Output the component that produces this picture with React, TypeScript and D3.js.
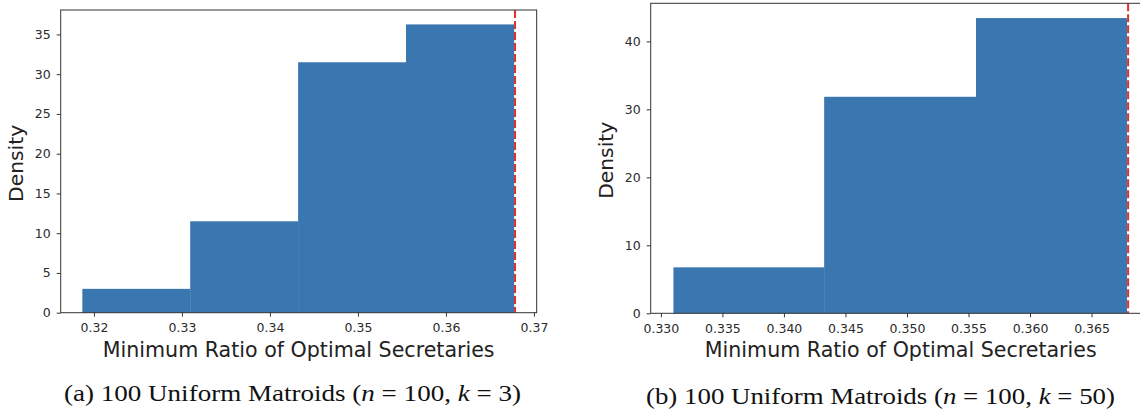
import React, { useEffect, useRef } from "react";
import * as d3 from "d3";

// panel (a): n=100, k=3
const edgesA = [0.31868, 0.33094, 0.3432, 0.35546, 0.36772];
const densityA = [3.0, 11.5, 31.5, 36.26];
const optA = 0.36785;
const xTicksA = [0.32, 0.33, 0.34, 0.35, 0.36, 0.37];
const yTicksA = [0, 5, 10, 15, 20, 25, 30, 35];

// panel (b): n=100, k=50
const edgesB = [0.33102, 0.34327, 0.35561, 0.36786];
const densityB = [6.76, 31.85, 43.43];
const optB = 0.36797;
const xTicksB = [0.33, 0.335, 0.34, 0.345, 0.35, 0.355, 0.36, 0.365];
const yTicksB = [0, 10, 20, 30, 40];

const W = 1140;
const H = 413;
const barColor = "#3a76af";
const sans = "DejaVu Sans, sans-serif";

type Panel = {
  edges: number[];
  density: number[];
  opt: number;
  xTicks: number[];
  yTicks: number[];
  xFmt: string;
  left: number;
  pxPerUnit: number;
  top: number;
  bottom: number;
  caption: string;
  kVal: string;
  capX: number;
  capW: number;
  capY: number;
};

const panels: Panel[] = [
  {
    edges: edgesA, density: densityA, opt: optA, xTicks: xTicksA, yTicks: yTicksA,
    xFmt: ".2f", left: 60.7, pxPerUnit: 8800, top: 10, bottom: 312.7,
    caption: "(a)", kVal: "3", capX: 64, capW: 457, capY: 401,
  },
  {
    edges: edgesB, density: densityB, opt: optB, xTicks: xTicksB, yTicks: yTicksB,
    xFmt: ".3f", left: 650.7, pxPerUnit: 12305, top: 3.3, bottom: 313.3,
    caption: "(b)", kVal: "50", capX: 646, capW: 469, capY: 404,
  },
];

function drawPanel(svg: d3.Selection<SVGSVGElement, unknown, null, undefined>, p: Panel) {
  const lo = p.edges[0];
  const hi = Math.max(p.edges[p.edges.length - 1], p.opt);
  const pad = (hi - lo) * 0.05;
  const x0 = lo - pad;
  const x1 = hi + pad;
  const right = p.left + (x1 - x0) * p.pxPerUnit;
  const x = d3.scaleLinear().domain([x0, x1]).range([p.left, right]);
  const yMax = (d3.max(p.density) as number) * 1.05;
  const y = d3.scaleLinear().domain([0, yMax]).range([p.bottom, p.top]);

  const g = svg.append("g");
  const bins = p.density.map((d, i) => ({ x0: p.edges[i], x1: p.edges[i + 1], d }));

  g.selectAll("rect.bar")
    .data(bins)
    .enter()
    .append("rect")
    .attr("class", "bar")
    .attr("x", (b) => x(b.x0))
    .attr("width", (b) => x(b.x1) - x(b.x0) + 0.3)
    .attr("y", (b) => y(b.d))
    .attr("height", (b) => y(0) - y(b.d))
    .attr("fill", barColor);

  g.append("line")
    .attr("x1", x(p.opt)).attr("x2", x(p.opt))
    .attr("y1", p.top).attr("y2", p.bottom)
    .attr("stroke", "#e2302c")
    .attr("stroke-width", 2)
    .attr("stroke-dasharray", "8,3");

  // spines
  g.append("rect")
    .attr("x", p.left).attr("y", p.top)
    .attr("width", right - p.left).attr("height", p.bottom - p.top)
    .attr("fill", "none").attr("stroke", "#333").attr("stroke-width", 1);

  const xAxis = d3.axisBottom(x).tickValues(p.xTicks).tickFormat(d3.format(p.xFmt)).tickSize(4).tickPadding(6.5);
  const gx = g.append("g").attr("transform", `translate(0,${p.bottom})`).call(xAxis);
  gx.select(".domain").remove();

  const yAxis = d3.axisLeft(y).tickValues(p.yTicks).tickFormat(d3.format("d")).tickSize(4).tickPadding(6);
  const gy = g.append("g").attr("transform", `translate(${p.left},0)`).call(yAxis);
  gy.select(".domain").remove();

  [gx, gy].forEach((a) => {
    a.selectAll("line").attr("stroke", "#333");
    a.selectAll("text").attr("font-family", sans).attr("font-size", 12.5).attr("fill", "#2b2b2b");
  });

  g.append("text")
    .attr("x", (p.left + right) / 2)
    .attr("y", 357)
    .attr("text-anchor", "middle")
    .attr("font-family", sans)
    .attr("font-size", 20.6)
    .attr("fill", "#222")
    .text("Minimum Ratio of Optimal Secretaries");

  g.append("text")
    .attr("transform", `translate(${p.left - 38},${(p.top + p.bottom) / 2 + 2}) rotate(-90)`)
    .attr("text-anchor", "middle")
    .attr("font-family", sans)
    .attr("font-size", 20.3)
    .attr("fill", "#222")
    .text("Density");

  const cap = g.append("text")
    .attr("x", p.capX)
    .attr("y", p.capY)
    .attr("font-family", "Liberation Serif, serif")
    .attr("font-size", 23)
    .attr("fill", "#111")
    .attr("textLength", p.capW)
    .attr("lengthAdjust", "spacingAndGlyphs");
  cap.append("tspan").text(`${p.caption} 100 Uniform Matroids (`);
  cap.append("tspan").attr("font-style", "italic").text("n");
  cap.append("tspan").text(" = 100, ");
  cap.append("tspan").attr("font-style", "italic").text("k");
  cap.append("tspan").text(` = ${p.kVal})`);
}

const App = () => {
  const ref = useRef<SVGSVGElement>(null);

  useEffect(() => {
    const svg = d3.select(ref.current as SVGSVGElement);
    svg.selectAll("*").remove();
    panels.forEach((p) => drawPanel(svg, p));
  }, []);

  return (
    <svg
      ref={ref}
      width={W}
      height={H}
      style={{ position: "absolute", left: 0, top: 0, background: "#fff" }}
    />
  );
};

export default App;
